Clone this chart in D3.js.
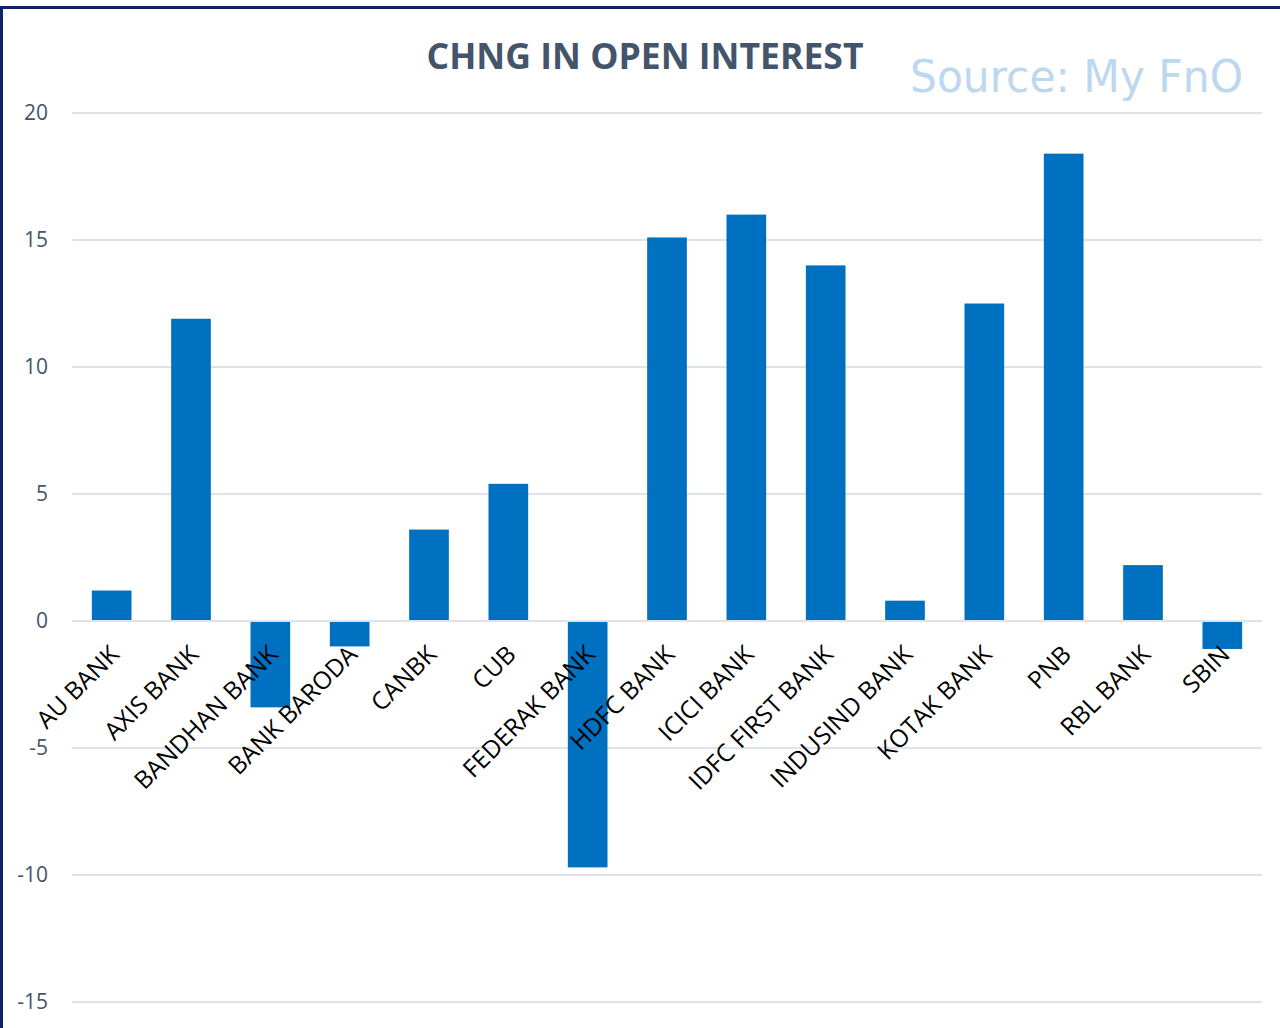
<!DOCTYPE html>
<html>
<head>
<meta charset="utf-8">
<script src="https://cdn.jsdelivr.net/npm/d3@7/dist/d3.min.js"></script>
<style>
	html, body { margin: 0; padding: 0; background: #fff; }
	svg { display: block; }
</style>
</head>
<body>
<div id="chart"></div>
<script>
var banks = ['AU BANK', 'AXIS BANK', 'BANDHAN BANK', 'BANK BARODA', 'CANBK', 'CUB', 'FEDERAK BANK',
	'HDFC BANK', 'ICICI BANK', 'IDFC FIRST BANK', 'INDUSIND BANK', 'KOTAK BANK', 'PNB', 'RBL BANK', 'SBIN'];
var oiChange = [1.2, 11.9, -3.4, -1.0, 3.6, 5.4, -9.7, 15.1, 16.0, 14.0, 0.8, 12.5, 18.4, 2.2, -1.1];
var yTicks = [-15, -10, -5, 0, 5, 10, 15, 20];

(function() {
	var width = 1280,
		height = 1028;

	var svg = d3.select('#chart').append('svg')
		.attr('width', width)
		.attr('height', height);

	// frame (dark navy on top and left)
	svg.append('rect').attr('x', 0).attr('y', 6).attr('width', width).attr('height', 3).attr('fill', '#0c2461');
	svg.append('rect').attr('x', 0).attr('y', 6).attr('width', 3).attr('height', height).attr('fill', '#0c2461');

	var x = d3.scaleBand()
		.domain(banks)
		.range([72, 1262])
		.paddingInner(0.5)
		.paddingOuter(0.25);
	var y = d3.scaleLinear()
		.domain([-15, 20])
		.range([1002, 113]);

	// gridlines
	svg.append('g').selectAll('line')
		.data(yTicks)
		.enter()
		.append('line')
		.attr('x1', 72)
		.attr('x2', 1262)
		.attr('y1', function(d) { return y(d); })
		.attr('y2', function(d) { return y(d); })
		.attr('stroke', '#dfe2e8')
		.attr('stroke-width', 2);

	// y tick labels
	svg.append('g').selectAll('text')
		.data(yTicks)
		.enter()
		.append('text')
		.attr('x', 48)
		.attr('y', function(d) { return y(d); })
		.attr('dy', '0.35em')
		.attr('text-anchor', 'end')
		.attr('font-family', 'Open Sans')
		.attr('font-size', 21)
		.attr('fill', '#44546a')
		.text(function(d) { return d; });

	// bars
	svg.append('g').selectAll('rect')
		.data(oiChange)
		.enter()
		.append('rect')
		.attr('x', function(d, i) { return x(banks[i]); })
		.attr('width', x.bandwidth())
		.attr('y', function(d) { return d >= 0 ? y(d) : y(0) + 1; })
		.attr('height', function(d) { return d >= 0 ? y(0) - y(d) - 1 : y(d) - y(0) - 1; })
		.attr('fill', '#0070c0');

	// category labels, rotated
	svg.append('g').selectAll('text')
		.data(banks)
		.enter()
		.append('text')
		.attr('transform', function(d) {
			return 'translate(' + (x(d) + x.bandwidth() / 2 + 9) + ',' + (y(0) + 35) + ') rotate(-45)';
		})
		.attr('text-anchor', 'end')
		.attr('font-family', 'Open Sans')
		.attr('font-size', 24.5)
		.attr('fill', '#000')
		.text(function(d) { return d; });

	// title
	svg.append('text')
		.attr('x', 645)
		.attr('y', 69)
		.attr('text-anchor', 'middle')
		.attr('font-family', 'Open Sans')
		.attr('font-weight', 'bold')
		.attr('font-size', 35)
		.attr('textLength', 437)
		.attr('lengthAdjust', 'spacingAndGlyphs')
		.attr('fill', '#44546a')
		.text('CHNG IN OPEN INTEREST');

	svg.append('text')
		.attr('x', 910)
		.attr('y', 92)
		.attr('font-family', 'DejaVu Sans Condensed')
		.attr('font-size', 44)
		.attr('textLength', 333)
		.attr('lengthAdjust', 'spacingAndGlyphs')
		.attr('fill', '#bdd7ee')
		.text('Source: My FnO');
})();
</script>
</body>
</html>
